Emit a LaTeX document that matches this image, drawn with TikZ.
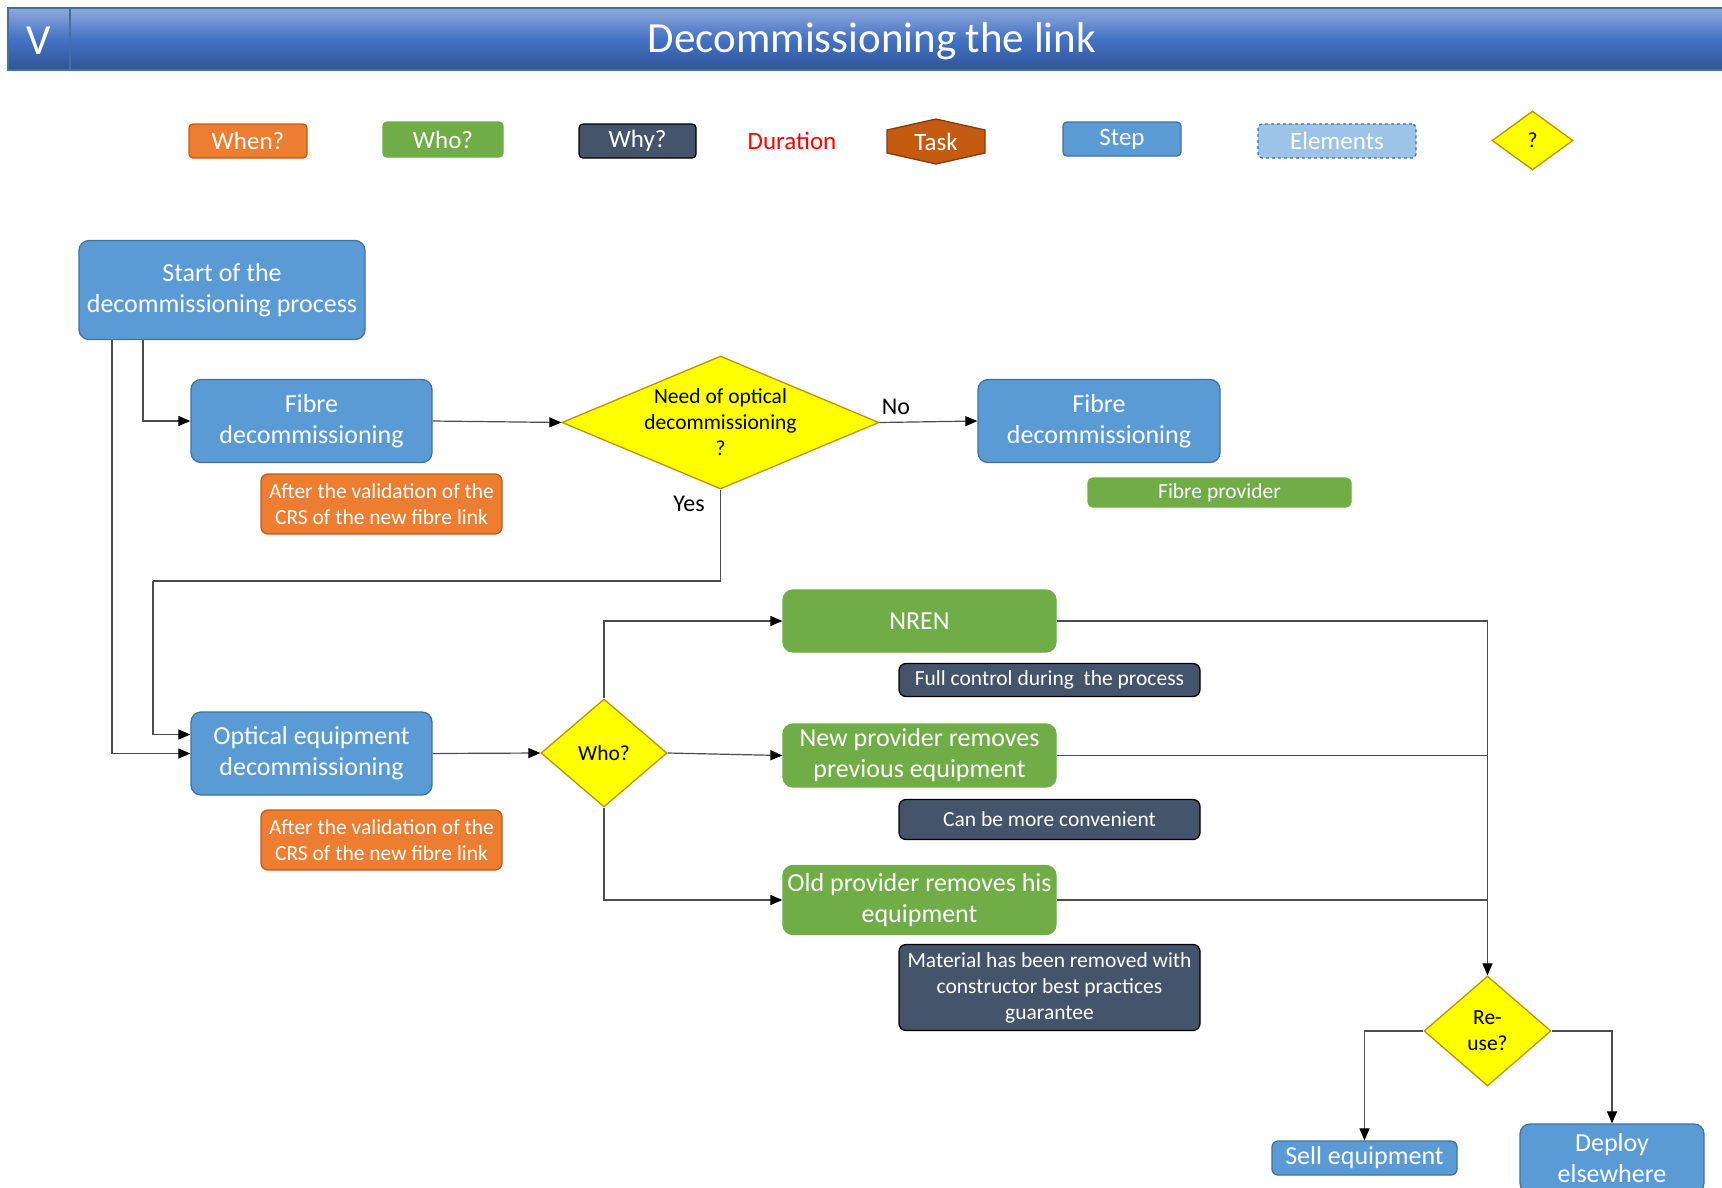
\documentclass[tikz,border=0pt]{standalone}
\usepackage{fontspec}
\setmainfont{Carlito}
\usetikzlibrary{shapes.geometric,arrows.meta}

\definecolor{stepblue}{HTML}{5B9BD5}
\definecolor{stepedge}{HTML}{41719C}
\definecolor{whogreen}{HTML}{70AD47}
\definecolor{whenorange}{HTML}{ED7D31}
\definecolor{whenedge}{HTML}{C55A11}
\definecolor{whyslate}{HTML}{44546A}
\definecolor{taskrust}{HTML}{C55A11}
\definecolor{taskedge}{HTML}{843C0C}
\definecolor{elemblue}{HTML}{9DC3E6}
\definecolor{elemedge}{HTML}{2E75B6}
\definecolor{qyellow}{HTML}{FFFF00}
\definecolor{qedge}{HTML}{BF9000}
\definecolor{titletop}{HTML}{8FAADC}
\definecolor{titlemid}{HTML}{4472C4}
\definecolor{titlebot}{HTML}{2F5597}

\newcommand{\fsbig}{\fontsize{26}{31}\selectfont}
\newcommand{\fssmall}{\fontsize{21.5}{26}\selectfont}
\newcommand{\fslegend}{\fontsize{25}{30}\selectfont}
\newcommand{\fstitle}{\fontsize{43}{50}\selectfont}

\begin{document}
\begin{tikzpicture}[x=1pt, y=-1pt,
  box/.style={rectangle, rounded corners=10pt, inner sep=0pt, align=center, line width=1.3pt},
  stepbox/.style={box, fill=stepblue, draw=stepedge, text=white, font=\fsbig},
  whobox/.style={box, fill=whogreen, draw=whogreen, text=white, font=\fsbig},
  whenbox/.style={box, fill=whenorange, draw=whenedge, text=white, font=\fssmall, rounded corners=7pt},
  whybox/.style={box, fill=whyslate, draw=black, text=white, font=\fssmall, rounded corners=7pt},
  decision/.style={diamond, fill=qyellow, draw=qedge, line width=1.3pt, inner sep=0pt},
  lbl/.style={font=\fontsize{24}{29}\selectfont, inner sep=0pt},
  link/.style={draw=black!70, line width=1.2pt},
  flow/.style={link, -{Triangle[length=12pt, width=10pt, color=black]}}]

\useasboundingbox (0,0) rectangle (1722,1187);
\fill[white] (0,0) rectangle (1722,1187);

% header bar
\draw[top color=titletop, bottom color=titlebot, middle color=titlemid,
      draw=stepedge, line width=2pt] (8,8) rectangle (1730,70);
\draw[stepedge, line width=2pt] (70,8) -- (70,70);
\node[font=\fstitle, text=white] (roman) at (39,41) {V};
\node[font=\fstitle, text=white] (title) at (872,41) {Decommissioning the link};

% legend
\node[whenbox, font=\fslegend, rounded corners=4pt, minimum width=118pt, minimum height=34pt] (lgwhen) at (248,141) {When?};
\node[whobox, font=\fslegend, rounded corners=4pt, minimum width=120pt, minimum height=35pt] (lgwho) at (443,139.5) {Who?};
\node[whybox, font=\fslegend, rounded corners=4pt, minimum width=117pt, minimum height=34pt] (lgwhy) at (637.5,141) {Why?};
\node[font=\fslegend, text=red] (lgdur) at (792,141) {Duration};
\draw[fill=taskrust, draw=taskedge, line width=1.3pt]
  (887,130) -- (936,119) -- (985,130) -- (985,153) -- (936,164) -- (887,153) -- cycle;
\node[font=\fslegend, text=white, inner sep=0pt] (lgtask) at (936,141.5) {Task};
\node[stepbox, font=\fslegend, rounded corners=4pt, minimum width=118pt, minimum height=34pt] (lgstep) at (1122,139) {Step};
\node[box, fill=elemblue, draw=elemedge, dashed, text=white, font=\fslegend, rounded corners=4pt,
      minimum width=158pt, minimum height=34pt] (lgelem) at (1337,141) {Elements};
\node[decision, minimum width=81pt, minimum height=59pt,
      label={[font=\fssmall]center:?}] (lgq) at (1532.5,140.5) {};

% upper branch
\node[stepbox, minimum width=286pt, minimum height=99pt] (start) at (222,290) {Start of the\\decommissioning process};
\node[stepbox, minimum width=241pt, minimum height=83pt] (fibreA) at (311.5,421) {Fibre\\decommissioning};
\node[whenbox, minimum width=241pt, minimum height=60pt] (whenA) at (381.5,504) {After the validation of the\\CRS of the new fibre link};
\node[decision, minimum width=317pt, minimum height=133pt,
      label={[font=\fssmall, align=center]center:{Need of optical\\decommissioning\\?}}] (needopt) at (720.5,422.5) {};
\node[stepbox, minimum width=242pt, minimum height=83pt] (fibreB) at (1099,421) {Fibre\\decommissioning};
\node[box, fill=whogreen, draw=whogreen, text=white, font=\fssmall, rounded corners=5pt,
      minimum width=263pt, minimum height=29pt] (fibreprov) at (1219.5,492.5) {Fibre provider};
\node[lbl] (nolbl) at (896,407) {No};
\node[lbl] (yeslbl) at (689,504) {Yes};

% lower branch
\node[stepbox, minimum width=241pt, minimum height=83pt] (optical) at (311.5,753.5) {Optical equipment\\decommissioning};
\node[whenbox, minimum width=241pt, minimum height=60pt] (whenB) at (381.5,840) {After the validation of the\\CRS of the new fibre link};
\node[decision, minimum width=126pt, minimum height=108pt,
      label={[font=\fssmall]center:Who?}] (who) at (604,753) {};
\node[whobox, minimum width=273pt, minimum height=62pt] (nren) at (919.5,621) {NREN};
\node[whybox, minimum width=301pt, minimum height=33pt] (fullctl) at (1049.5,680) {Full control during\ \ the process};
\node[whobox, minimum width=273pt, minimum height=63pt] (newprov) at (919.5,755.5) {New provider removes\\previous equipment};
\node[whybox, minimum width=301pt, minimum height=40pt] (conv) at (1049.5,819.5) {Can be more convenient};
\node[whobox, minimum width=273pt, minimum height=69pt] (oldprov) at (919.5,900) {Old provider removes his\\equipment};
\node[whybox, minimum width=301pt, minimum height=86pt] (material) at (1049.5,987.5) {Material has been removed with\\constructor best practices\\guarantee};
\node[decision, minimum width=127pt, minimum height=110pt,
      label={[font=\fssmall, align=center]center:{Re-\\use?}}] (reuse) at (1487.5,1031) {};
\node[stepbox, rounded corners=6pt, minimum width=185pt, minimum height=34pt] (sell) at (1364.5,1158) {Sell equipment};
\node[stepbox, minimum width=184pt, minimum height=69pt] (deploy) at (1612,1158.5) {Deploy\\elsewhere};

% connectors
\coordinate (yesbend) at (153,581);
\draw[flow] ([xshift=-79pt]start.south) |- (fibreA.west);
\draw[flow] ([xshift=-110pt]start.south) |- (optical.west);
\draw[flow] (fibreA.east) -- (needopt.west);
\draw[flow] (needopt.east) -- (fibreB.west);
\draw[link] (needopt.south) |- (yesbend);
\draw[flow] (yesbend) |- ([yshift=19pt]optical.west);
\draw[flow] (optical.east) -- (who.west);
\draw[flow] (who.north) |- (nren.west);
\draw[flow] (who.east) -- (newprov.west);
\draw[flow] (who.south) |- (oldprov.west);
\draw[flow] (nren.east) -| (reuse.north);
\draw[link] (newprov.east) -- (newprov.east -| reuse.north);
\draw[link] (oldprov.east) -- (oldprov.east -| reuse.north);
\draw[flow] (reuse.west) -| (sell.north);
\draw[flow] (reuse.east) -| (deploy.north);
\end{tikzpicture}
\end{document}
